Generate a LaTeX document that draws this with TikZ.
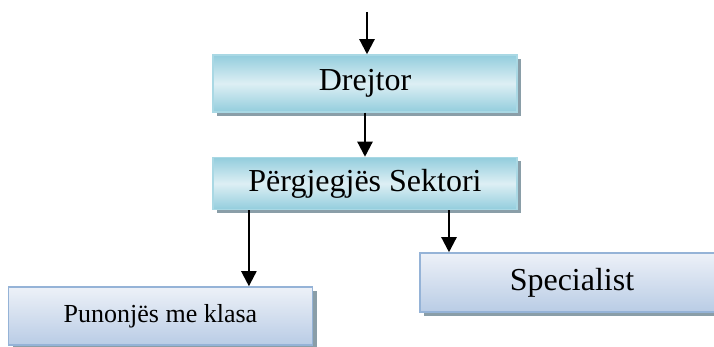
\documentclass[tikz,border=0pt]{standalone}
\usepackage{fontspec}
\setmainfont{Liberation Serif}
\usetikzlibrary{arrows.meta,positioning,calc,shadows}
\definecolor{cyanedge}{HTML}{93CDDD}
\definecolor{cyanmid}{HTML}{DDEFF4}
\definecolor{cyanline}{HTML}{A9D8E4}
\definecolor{bluetop}{HTML}{EDF1F8}
\definecolor{bluebot}{HTML}{B9CCE5}
\definecolor{blueline}{HTML}{95B3D7}
\definecolor{shadowgray}{HTML}{8A9EA8}

\begin{document}
\begin{tikzpicture}[
    x=0.5pt, y=-0.5pt,
    node distance=22pt,
    headbox/.style={rectangle, draw=cyanline, line width=0.75pt, top color=cyanedge, bottom color=cyanedge, middle color=cyanmid, minimum width=152pt, text centered, inner sep=0pt, font=\fontsize{16}{19}\selectfont, drop shadow={shadow xshift=2pt, shadow yshift=-2pt, fill=shadowgray, opacity=1}},
    staffbox/.style={rectangle, draw=blueline, line width=0.75pt, top color=bluetop, bottom color=bluebot, minimum width=152pt, text centered, inner sep=0pt, drop shadow={shadow xshift=2pt, shadow yshift=-2pt, fill=shadowgray, opacity=1}},
    arrow/.style={-{Triangle[width=7.5pt,length=7.5pt]}, line width=1.1pt}
]
\useasboundingbox (0,0) rectangle (714,347);

\coordinate (entry) at (367,12);
\node[headbox, minimum height=28.5pt] (drejtor) at (365,83.5) {Drejtor};
\node[headbox, minimum height=26pt, below=of drejtor] (sektori) {Përgjegjës Sektori};
\node[staffbox, minimum height=29pt, font=\fontsize{13}{16}\selectfont] (punonjes) at (160.5,316) {Punonjës me klasa};
\node[staffbox, minimum height=29.5pt, font=\fontsize{16}{19}\selectfont] (specialist) at (572,282.5) {Specialist};

\coordinate (leftout) at ($(sektori.south west)!0.12!(sektori.south east)$);
\coordinate (rightout) at ($(sektori.south west)!0.775!(sektori.south east)$);

\draw[arrow] (entry) -- (entry |- drejtor.north);
\draw[arrow] (drejtor) -- (sektori);
\draw[arrow] (leftout) -- (leftout |- punonjes.north);
\draw[arrow] (rightout) -- (rightout |- specialist.north);

\end{tikzpicture}
\end{document}
